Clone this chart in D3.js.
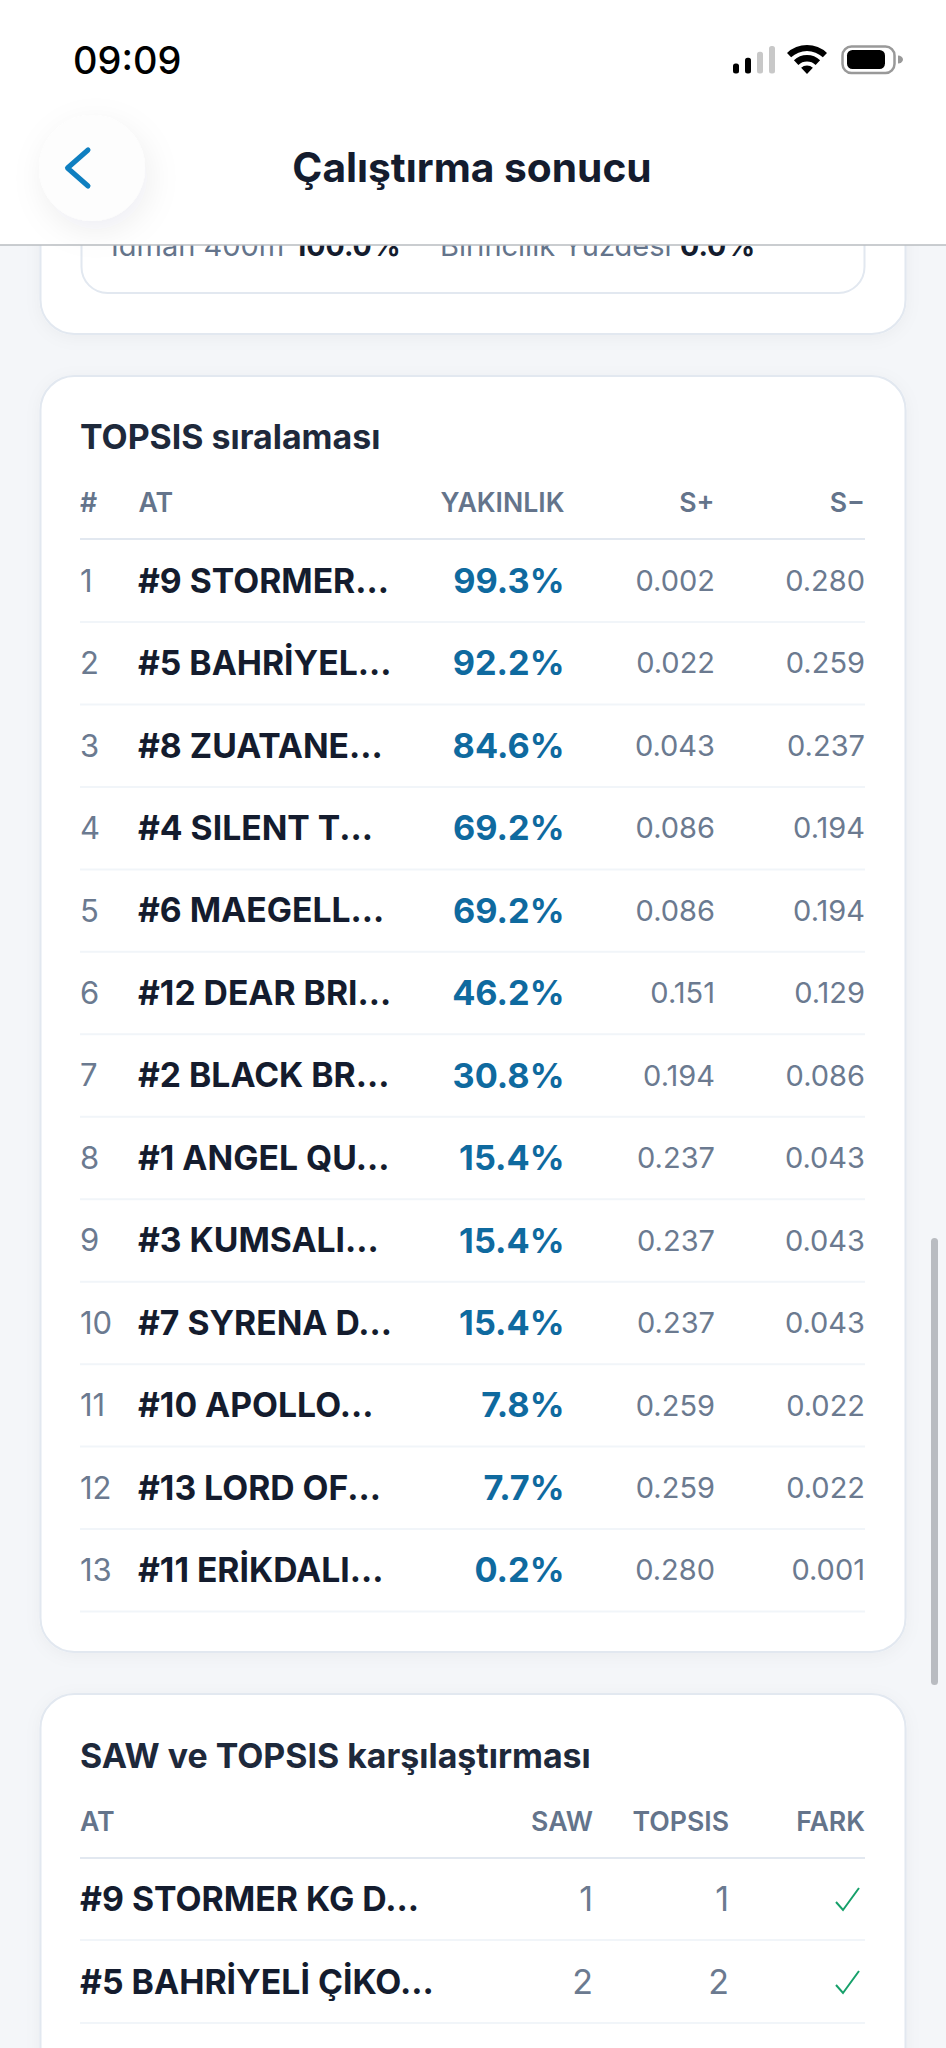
<!DOCTYPE html>
<html>
<head>
<meta charset="utf-8">
<style>
html,body{margin:0;padding:0;background:#f4f6f9;overflow:hidden}
svg{display:block}
text{font-family:Inter,"Noto Sans",sans-serif}
</style>
<script src="https://cdnjs.cloudflare.com/ajax/libs/d3/7.8.5/d3.min.js"></script>
</head>
<body>
<script>
// TOPSIS tablosu
const ranks = [1,2,3,4,5,6,7,8,9,10,11,12,13];
const horses = ["#9 STORMER...","#5 BAHRİYEL...","#8 ZUATANE...","#4 SILENT T...","#6 MAEGELL...","#12 DEAR BRI...","#2 BLACK BR...","#1 ANGEL QU...","#3 KUMSALI...","#7 SYRENA D...","#10 APOLLO...","#13 LORD OF...","#11 ERİKDALI..."];
const closeness = [99.3,92.2,84.6,69.2,69.2,46.2,30.8,15.4,15.4,15.4,7.8,7.7,0.2];
const sPlus = [0.002,0.022,0.043,0.086,0.086,0.151,0.194,0.237,0.237,0.237,0.259,0.259,0.280];
const sMinus = [0.280,0.259,0.237,0.194,0.194,0.129,0.086,0.043,0.043,0.043,0.022,0.022,0.001];
const topsisHead = ["#","AT","YAKINLIK","S+","S−"];
// SAW karşılaştırması
const cmpHorses = ["#9 STORMER KG D...","#5 BAHRİYELİ ÇİKO..."];
const cmpSaw = [1,2];
const cmpTopsis = [1,2];
const cmpHead = ["AT","SAW","TOPSIS","FARK"];
const signalBars = [1,2,3,4];

const W = 946, H = 2048;
const ink = "#141c2e", grey = "#64748b", blue = "#0f6a9f";

const svg = d3.select("body").append("svg").attr("width",W).attr("height",H);
const defs = svg.append("defs");
const f = defs.append("filter").attr("id","soft").attr("x","-80%").attr("y","-80%").attr("width","260%").attr("height","260%");
f.append("feDropShadow").attr("dx",4).attr("dy",10).attr("stdDeviation",16).attr("flood-color","#1e293b").attr("flood-opacity",0.07);
const f2 = defs.append("filter").attr("id","cardSh").attr("x","-10%").attr("y","-10%").attr("width","120%").attr("height","120%");
f2.append("feDropShadow").attr("dx",0).attr("dy",3).attr("stdDeviation",8).attr("flood-color","#1e293b").attr("flood-opacity",0.04);

function card(y0,y1){
  svg.append("rect").attr("x",40.5).attr("y",y0).attr("width",865).attr("height",y1-y0)
    .attr("rx",34).attr("fill","#fff").attr("stroke","#e2e8f0").attr("stroke-width",2).attr("filter","url(#cardSh)");
}
function txt(g,x,y,s,size,weight,fill,anchor){
  return g.append("text").attr("x",x).attr("y",y).attr("dy","0.36em").attr("font-size",size)
    .attr("font-weight",weight).attr("fill",fill).attr("text-anchor",anchor||"start").text(s);
}

// ust kart (basligin altinda kalan)
card(-120,334);
svg.append("rect").attr("x",81.5).attr("y",-80).attr("width",783).attr("height",373)
  .attr("rx",26).attr("fill","#fff").attr("stroke","#e2e8f0").attr("stroke-width",2);
const clip = svg.append("g");
txt(clip,111,246,"İdman 400m",29,400,grey);
txt(clip,294,246,"100.0%",28.5,700,ink);
txt(clip,440,246,"Birincilik Yüzdesi",29,400,grey);
txt(clip,680,246,"0.0%",28.5,700,ink);

// TOPSIS karti
card(376,1652);
const t = svg.append("g");
txt(t,80,437,"TOPSIS sıralaması",33.9,650,"#1e293b");
const yT = d3.scalePoint().domain(ranks).range([580.5,1570]);
const xHead = [80,138.5,564.5,714.5,865], aHead = ["start","start","end","end","end"];
topsisHead.forEach((h,i)=>txt(t,xHead[i],502,h,26.7,600,grey,aHead[i]));
t.append("line").attr("x1",80).attr("x2",865).attr("y1",539).attr("y2",539).attr("stroke","#e2e8f0").attr("stroke-width",2);

const rowsT = t.selectAll("g.row").data(ranks).join("g").attr("class","row")
  .attr("transform",d=>"translate(0,"+yT(d)+")");
rowsT.append("line").attr("x1",80).attr("x2",865).attr("y1",41.5).attr("y2",41.5).attr("stroke","#f1f5f9").attr("stroke-width",2);
rowsT.each(function(d,i){
  const g = d3.select(this);
  txt(g,80,0,ranks[i],31,400,"#6b7a90");
  txt(g,138,0,horses[i],33.7,650,ink);
  txt(g,564.5,0,closeness[i].toFixed(1)+"%",34.3,700,blue,"end");
  txt(g,715,0,sPlus[i].toFixed(3),29,400,"#6b7a90","end");
  txt(g,865,0,sMinus[i].toFixed(3),29,400,"#6b7a90","end");
});

// karsilastirma karti
card(1694,2200);
const c = svg.append("g");
txt(c,80,1756,"SAW ve TOPSIS karşılaştırması",33.9,650,"#1e293b");
const xCmp = [80,593,729,865], aCmp = ["start","end","end","end"];
cmpHead.forEach((h,i)=>txt(c,xCmp[i],1821,h,26.7,600,grey,aCmp[i]));
c.append("line").attr("x1",80).attr("x2",865).attr("y1",1858).attr("y2",1858).attr("stroke","#e2e8f0").attr("stroke-width",2);
const yC = d3.scalePoint().domain(cmpSaw).range([1899,1982]);
const rowsC = c.selectAll("g.row").data(cmpSaw).join("g").attr("class","row")
  .attr("transform",d=>"translate(0,"+yC(d)+")");
rowsC.append("line").attr("x1",80).attr("x2",865).attr("y1",41).attr("y2",41).attr("stroke","#f1f5f9").attr("stroke-width",2);
rowsC.each(function(d,i){
  const g = d3.select(this);
  txt(g,80,0,cmpHorses[i],33.8,650,ink);
  txt(g,593,0,cmpSaw[i],34,400,"#6b7a90","end");
  txt(g,729,0,cmpTopsis[i],34,400,"#6b7a90","end");
  g.append("path").attr("d","M836,3 L843,11 L859,-11").attr("fill","none").attr("stroke","#16a06a").attr("stroke-width",2);
});

// kaydirma cubugu
svg.append("rect").attr("x",931).attr("y",1238).attr("width",7).attr("height",447).attr("rx",3.5).attr("fill","#b9bcc1");

// baslik
const head = svg.append("g");
head.append("rect").attr("width",W).attr("height",245).attr("fill","#fff");
head.append("line").attr("x1",0).attr("x2",W).attr("y1",245).attr("y2",245).attr("stroke","#b9bcc0").attr("stroke-width",1.5);
head.append("circle").attr("cx",92).attr("cy",168).attr("r",53).attr("fill","#fdfdfd").attr("filter","url(#soft)");
head.append("path").attr("d","M88,150 L67.5,168 L88,186").attr("fill","none").attr("stroke","#0f7fc0")
  .attr("stroke-width",5).attr("stroke-linecap","round").attr("stroke-linejoin","round");
txt(head,472,167,"Çalıştırma sonucu",40.7,650,ink,"middle");
txt(head,73,60,"09:09",38,500,"#000");

// durum cubugu
const sx = d3.scaleBand().domain(signalBars).range([733,775]).paddingInner(0.5);
const sh = d3.scaleLinear().domain([1,4]).range([10,27.5]);
head.selectAll("rect.sig").data(signalBars).join("rect").attr("class","sig")
  .attr("x",d=>sx(d)).attr("width",sx.bandwidth())
  .attr("y",d=>73.5-sh(d)).attr("height",d=>sh(d)).attr("rx",2.5)
  .attr("fill",d=>d<3?"#000":"#c8c8c8");
const wifi = d3.arc().startAngle(-0.76).endAngle(0.76);
const wifiBands = [[0,8.5],[12.5,19],[23,29]];
head.selectAll("path.wifi").data(wifiBands).join("path").attr("class","wifi")
  .attr("transform","translate(807,74)")
  .attr("d",d=>wifi({innerRadius:d[0],outerRadius:d[1]})).attr("fill","#000");
head.append("rect").attr("x",842.5).attr("y",46.5).attr("width",52).attr("height",26.5).attr("rx",9)
  .attr("fill","none").attr("stroke","#999").attr("stroke-width",2.5);
head.append("rect").attr("x",847).attr("y",50).attr("width",38).attr("height",19).attr("rx",5.5).attr("fill","#000");
head.append("path").attr("d","M898,55.5 a5,4 0 0 1 0,8 z").attr("fill","#999");
</script>
</body>
</html>
